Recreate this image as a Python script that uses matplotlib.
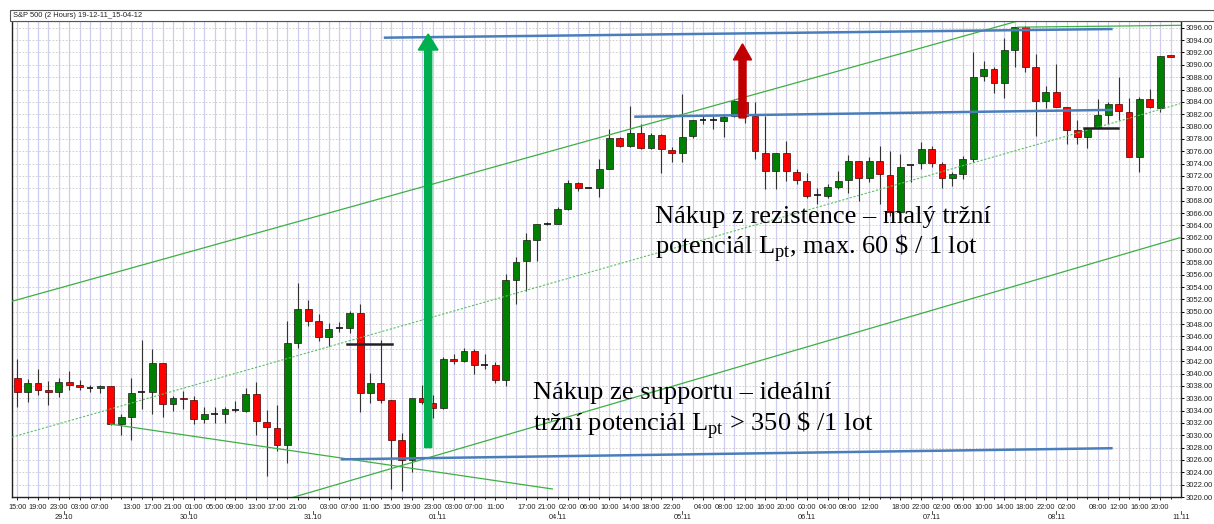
import numpy as np
import matplotlib
matplotlib.use("Agg")
from matplotlib import pyplot as plt
from matplotlib.patches import Rectangle

plt.rcParams['font.family'] = ['Liberation Sans', 'DejaVu Sans']
plt.rcParams['mathtext.fontset'] = 'custom'
plt.rcParams['mathtext.rm'] = 'Liberation Serif'

# S&P 500, 2h svicky (index svicky = poradi)
opens = [3039.2, 3037.0, 3038.4, 3037.3, 3037.0, 3038.7, 3038.2, 3037.7, 3037.6, 3038.0,
         3031.8, 3032.9, 3037.0, 3037.0, 3041.7, 3035.0, 3036.0, 3035.7, 3032.7, 3033.5,
         3033.5, 3034.1, 3034.0, 3036.7, 3032.1, 3031.2, 3028.4, 3045.0, 3050.5, 3048.5,
         3045.9, 3047.3, 3047.3, 3049.8, 3036.8, 3038.5, 3035.7, 3029.2, 3026.0, 3036.0,
         3035.3, 3034.4, 3042.4, 3042.0, 3043.6, 3041.4, 3041.4, 3039.0, 3055.2, 3058.3,
         3061.7, 3064.3, 3064.3, 3066.7, 3070.9, 3070.1, 3070.0, 3073.2, 3078.2, 3076.9,
         3079.0, 3076.5, 3078.7, 3076.2, 3075.8, 3078.5, 3081.1, 3081.0, 3080.9, 3081.7,
         3083.9, 3081.7, 3075.8, 3072.8, 3075.7, 3072.7, 3071.2, 3068.9, 3068.8, 3070.2,
         3071.3, 3074.4, 3071.7, 3074.4, 3072.2, 3066.2, 3073.8, 3074.1, 3076.4, 3073.9,
         3071.6, 3072.3, 3074.8, 3088.2, 3089.4, 3087.0, 3092.4, 3096.1, 3089.7, 3084.1,
         3085.6, 3083.2, 3079.5, 3078.3, 3079.7, 3081.9, 3083.6, 3082.4, 3075.0, 3084.4,
         3083.0, 3091.6]
highs = [3042.3, 3039.1, 3040.7, 3038.8, 3039.3, 3040.4, 3038.9, 3038.2, 3038.2, 3038.0,
         3033.4, 3039.3, 3045.5, 3043.9, 3041.7, 3036.4, 3037.2, 3036.4, 3034.5, 3034.5,
         3034.5, 3035.6, 3037.7, 3038.7, 3034.1, 3034.9, 3048.5, 3054.7, 3051.9, 3049.6,
         3048.2, 3048.4, 3050.1, 3051.2, 3040.1, 3045.5, 3035.7, 3030.4, 3036.0, 3038.2,
         3036.6, 3042.6, 3043.1, 3044.2, 3043.9, 3043.1, 3041.8, 3056.1, 3058.8, 3062.8,
         3064.3, 3064.5, 3066.9, 3071.4, 3071.1, 3070.2, 3074.8, 3079.6, 3078.3, 3083.4,
         3080.4, 3079.0, 3078.8, 3076.7, 3085.2, 3081.1, 3081.7, 3081.7, 3082.0, 3084.4,
         3083.9, 3083.9, 3081.7, 3075.7, 3077.7, 3073.1, 3072.5, 3070.1, 3070.7, 3072.8,
         3075.4, 3074.4, 3075.1, 3076.9, 3076.0, 3075.5, 3073.8, 3077.5, 3076.9, 3074.2,
         3072.6, 3075.3, 3092.1, 3090.7, 3089.6, 3094.4, 3096.1, 3096.3, 3091.8, 3086.6,
         3090.1, 3083.2, 3081.0, 3079.8, 3084.4, 3083.9, 3088.0, 3084.7, 3084.8, 3086.1,
         3091.5, 3091.6]
lows = [3034.5, 3035.4, 3036.6, 3034.9, 3036.2, 3037.4, 3037.3, 3037.0, 3036.9, 3031.7,
        3030.1, 3029.3, 3034.2, 3033.4, 3032.9, 3033.9, 3034.2, 3031.9, 3032.0, 3032.0,
        3032.0, 3033.7, 3033.7, 3030.1, 3023.4, 3027.4, 3025.5, 3044.1, 3047.7, 3045.2,
        3044.5, 3046.8, 3046.6, 3033.7, 3035.3, 3035.3, 3021.3, 3021.0, 3024.0, 3035.0,
        3032.8, 3034.2, 3041.5, 3041.8, 3039.9, 3040.7, 3038.5, 3038.0, 3051.2, 3053.4,
        3058.2, 3064.1, 3064.2, 3066.5, 3069.6, 3070.0, 3068.6, 3073.1, 3076.7, 3076.7,
        3076.3, 3076.3, 3072.4, 3074.2, 3074.2, 3078.1, 3080.4, 3079.6, 3078.3, 3081.5,
        3080.5, 3074.7, 3069.9, 3069.9, 3071.2, 3070.7, 3068.5, 3067.4, 3068.5, 3069.9,
        3069.3, 3068.0, 3071.0, 3067.4, 3065.5, 3065.0, 3071.0, 3073.1, 3073.4, 3070.1,
        3070.4, 3071.5, 3074.2, 3087.4, 3085.5, 3084.6, 3089.7, 3088.8, 3078.5, 3083.0,
        3083.1, 3077.2, 3077.2, 3076.6, 3079.7, 3080.4, 3081.0, 3075.0, 3072.6, 3083.0,
        3082.4, 3091.3]
closes = [3037.0, 3038.4, 3037.3, 3037.0, 3038.7, 3038.2, 3037.8, 3037.7, 3038.0, 3031.8,
          3032.9, 3036.9, 3037.0, 3041.7, 3035.0, 3036.0, 3035.8, 3032.7, 3033.4, 3033.5,
          3034.2, 3034.1, 3036.7, 3032.3, 3031.3, 3028.4, 3045.0, 3050.5, 3048.5, 3045.9,
          3047.2, 3047.3, 3049.8, 3036.8, 3038.5, 3035.7, 3029.3, 3026.0, 3036.0, 3035.4,
          3034.4, 3042.4, 3042.0, 3043.6, 3041.3, 3041.4, 3039.0, 3055.2, 3058.1, 3061.6,
          3064.2, 3064.3, 3066.7, 3070.9, 3070.1, 3070.1, 3073.1, 3078.2, 3076.9, 3079.0,
          3076.5, 3078.7, 3076.3, 3075.8, 3078.3, 3081.1, 3081.1, 3081.0, 3081.5, 3084.1,
          3081.7, 3076.1, 3072.8, 3075.7, 3072.8, 3071.4, 3068.8, 3068.9, 3070.2, 3071.2,
          3074.4, 3071.7, 3074.4, 3072.3, 3066.2, 3073.5, 3073.8, 3076.4, 3074.1, 3071.6,
          3072.3, 3074.7, 3088.1, 3089.4, 3087.0, 3092.4, 3096.1, 3089.7, 3084.1, 3085.6,
          3083.2, 3079.5, 3078.3, 3079.7, 3081.8, 3083.6, 3082.6, 3075.0, 3084.4, 3083.1,
          3091.5, 3091.3]

# popisky casu (index svicky, text)
time_pos = [0, 2, 4, 6, 8, 11, 13, 15, 17, 19, 21, 23, 25, 27, 30, 32, 34, 36, 38, 40, 42, 44, 46,
            49, 51, 53, 55, 57, 59, 61, 63, 66, 68, 70, 72, 74, 76, 78, 80, 82,
            85, 87, 89, 91, 93, 95, 97, 99, 101, 104, 106, 108, 110]
time_txt = ['15:00', '19:00', '23:00', '03:00', '07:00', '13:00', '17:00', '21:00', '01:00', '05:00',
            '09:00', '13:00', '17:00', '21:00', '03:00', '07:00', '11:00', '15:00', '19:00', '23:00',
            '03:00', '07:00', '11:00', '17:00', '21:00', '02:00', '06:00', '10:00', '14:00', '18:00',
            '22:00', '04:00', '08:00', '12:00', '16:00', '20:00', '00:00', '04:00', '08:00', '12:00',
            '18:00', '22:00', '02:00', '06:00', '10:00', '14:00', '18:00', '22:00', '02:00', '08:00',
            '12:00', '16:00', '20:00']
date_pos = [4.5, 16.5, 28.5, 40.5, 52, 64, 76, 88, 100, 112]
date_txt = ['29.10', '30.10', '31.10', '01.11', '04.11', '05.11', '06.11', '07.11', '08.11', '11.11']

# nakreslene cary ((x0, y0), (x1, y1)) v souradnicich svicka / cena
green_lines = [((-0.5, 3051.7), (96.3, 3097.1)),
               ((26.25, 3019.8), (111.9, 3062.0)),
               ((9.0, 3031.8), (51.5, 3021.3)),
               ((96.3, 3096.1), (112.0, 3096.4))]
green_dotted = [((-0.5, 3029.7), (111.9, 3083.7))]
blue_lines = [((35.4, 3094.4), (105.3, 3095.8)),
              ((59.5, 3081.6), (105.3, 3082.7)),
              ((31.25, 3026.1), (105.3, 3027.9))]
black_lines = [((31.7, 3044.8), (36.1, 3044.8)),
               ((102.7, 3079.8), (105.9, 3079.8))]

fig = plt.figure(figsize=(12.14, 5.24), dpi=100)
ax = fig.add_axes([12 / 1214, 27 / 524, 1169 / 1214, 476 / 524])

n = len(opens)
xs = np.arange(n)
o = np.array(opens)
c = np.array(closes)

# mrizka
for x in xs:
    ax.axvline(x, color='#cdcdf0', lw=0.9, zorder=0)
for y in np.arange(3020, 3098, 2):
    ax.axhline(y, color='#c8c8c8', lw=0.6, ls=(0, (2, 2)), zorder=0)

# svicky
ax.vlines(xs, lows, highs, color='#333333', lw=0.8, zorder=3)
up = c > o + 0.05
dn = c < o - 0.05
doji = ~(up | dn)
ax.bar(xs[up], (c - o)[up], 0.66, bottom=o[up], color='#008000', edgecolor='#1a1a1a', lw=0.5, zorder=4)
ax.bar(xs[dn], (o - c)[dn], 0.66, bottom=c[dn], color='#ff0000', edgecolor='#4a0000', lw=0.5, zorder=4)
ax.hlines(c[doji], xs[doji] - 0.33, xs[doji] + 0.33, color='#111111', lw=1.2, zorder=4)

for (a, b) in green_lines:
    ax.plot([a[0], b[0]], [a[1], b[1]], color='#3cb043', lw=0.9, zorder=5)
for (a, b) in green_dotted:
    ax.plot([a[0], b[0]], [a[1], b[1]], color='#5cc060', lw=0.8, ls=(0, (2, 1.5)), zorder=5)
for (a, b) in blue_lines:
    ax.plot([a[0], b[0]], [a[1], b[1]], color='#4a7ebb', lw=1.8, zorder=6)
for (a, b) in black_lines:
    ax.plot([a[0], b[0]], [a[1], b[1]], color='#222222', lw=1.8, zorder=6)

# sipky
ax.arrow(39.55, 3028.0, 0, 3095.0 - 3028.0, width=0.68, head_width=1.9, head_length=2.6,
         length_includes_head=True, color='#00b050', zorder=7)
ax.arrow(69.8, 3081.4, 0, 3093.4 - 3081.4, width=0.68, head_width=1.75, head_length=2.6,
         length_includes_head=True, color='#c00000', zorder=7)

# texty
tk = dict(fontsize=19.0, family='Liberation Serif', color='black', va='baseline', zorder=8)
ax.text(61.35, 3064.4, 'Nákup z rezistence – malý tržní', **tk)
ax.text(61.35, 3059.4, r'potenciál L$_{\mathrm{pt}}$, max. 60 \$ / 1 lot', **tk)
ax.text(49.6, 3035.8, 'Nákup ze supportu – ideální', **tk)
ax.text(49.6, 3030.7, r'tržní potenciál L$_{\mathrm{pt}}$ > 350 \$ /1 lot', **tk)

ax.set_xlim(-0.5, 112)
ax.set_ylim(3020, 3097.1)

ax.yaxis.tick_right()
ax.set_yticks(np.arange(3020, 3097, 2))
ax.set_yticklabels(['%.2f' % v for v in np.arange(3020, 3097, 2)], fontsize=5.5, color='#222222')
ax.tick_params(axis='y', length=2.5, width=0.7, pad=1.2, direction='out')
ax.set_xticks(time_pos)
ax.set_xticklabels(time_txt, fontsize=5.3, color='#222222')
ax.set_xticks(xs, minor=True)
ax.tick_params(axis='x', which='both', length=2, width=0.6, pad=3)
ax.tick_params(axis='x', which='minor', length=1.5)

trans = ax.get_xaxis_transform()
for p, t in zip(date_pos, date_txt):
    ax.plot([p, p], [-0.029, -0.035], transform=trans, color='#333333', lw=0.6, clip_on=False)
    ax.text(p, -0.036, t, transform=trans, ha='center', va='top', fontsize=5.3, color='#222222')

for s in ['left', 'bottom', 'right']:
    ax.spines[s].set_color('#222222')
    ax.spines[s].set_linewidth(1.0)
ax.spines['top'].set_color('#555555')
ax.spines['top'].set_linewidth(0.8)

# titulek v ramecku
fig.patches.append(Rectangle((10 / 1214, 503 / 524), 1204 / 1214, 11 / 524, transform=fig.transFigure,
                             facecolor='white', edgecolor='#555555', lw=0.8))
fig.text(13 / 1214, 508.5 / 524, 'S&P 500 (2 Hours) 19-12-11_15-04-12', fontsize=5.4, va='center',
         color='#222222')

fig.savefig('out.png', dpi=100)
